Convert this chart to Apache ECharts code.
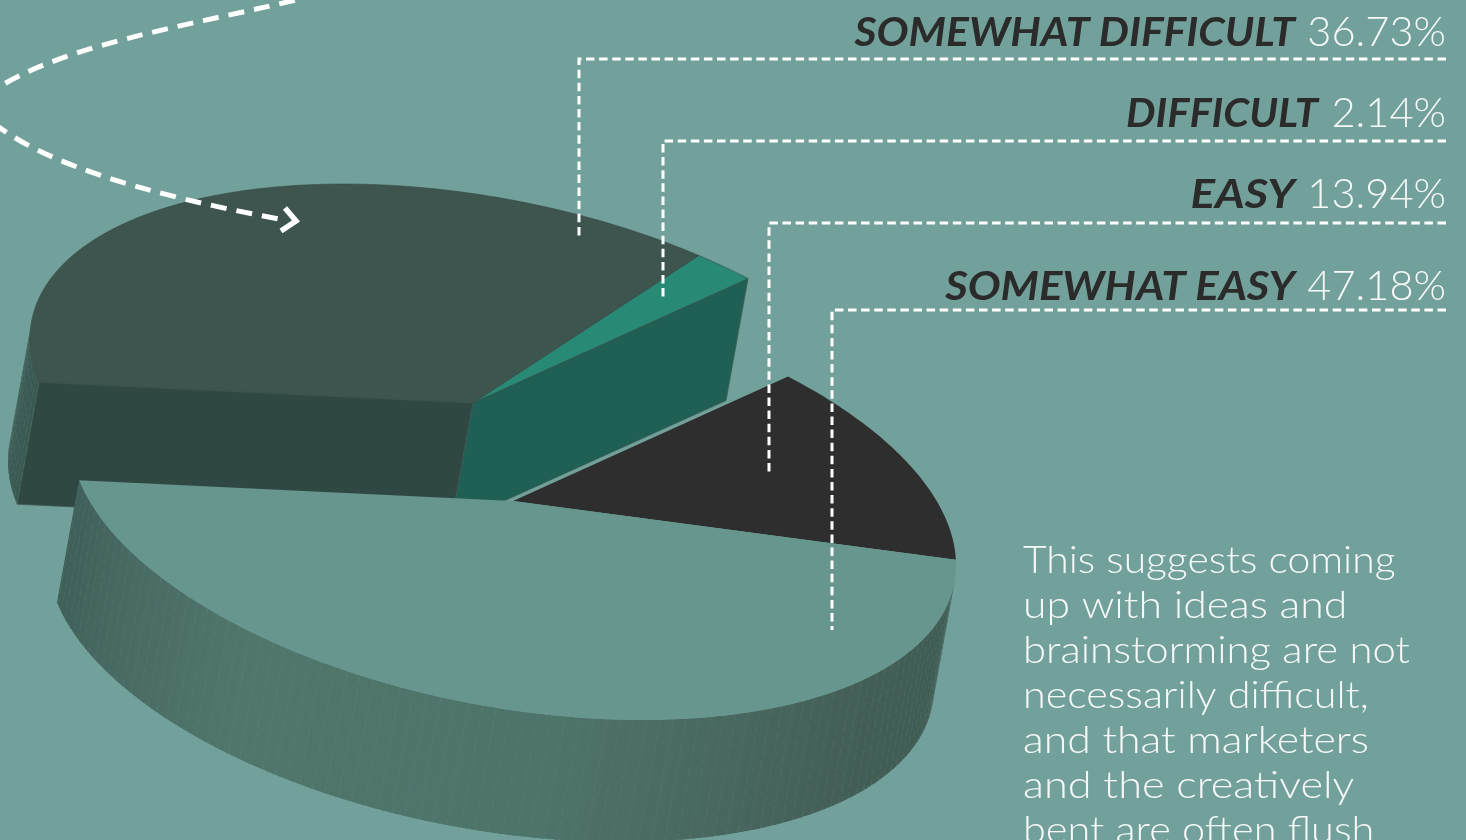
<!DOCTYPE html>
<html>
<head>
<meta charset="utf-8">
<style>html,body{margin:0;padding:0;background:#72a09a;overflow:hidden}#chart{width:1466px;height:840px}</style>
<script src="https://cdn.jsdelivr.net/npm/echarts@6/dist/echarts.min.js"></script>
</head>
<body>
<div id="chart"></div>
<script>
// Survey answers, in clockwise order around the pie.
const categories = ['SOMEWHAT DIFFICULT', 'DIFFICULT', 'EASY', 'SOMEWHAT EASY'];
const shares = [36.73, 2.14, 13.94, 47.18];
const note = ['This suggests coming', 'up with ideas and', 'brainstorming are not',
  'necessarily difficult,', 'and that marketers', 'and the creatively', 'bent are often flush'];
const noteStretch = [1.075, 1.125, 1.103, 1.086, 1.126, 1.139, 1.092];

// Slice colours: top face, cut wall (null when it stays hidden), and a ramp for the curved rim.
const topColors = ['#3d544f', '#288a74', '#2e2e2e', '#67968f'];
const cutColors = ['#304843', '#205f53', null, null];
const rimRamps = [
  ['#3c5a54', '#3c5a54'],
  ['#205f53', '#205f53'],
  ['#2e2e2e', '#2e2e2e'],
  ['#3e5a52', '#445f58', '#4d736a', '#50766c', '#3f5f59']
];

// Projection of the unit disc on to the page.
const axisU = [443, 64];
const axisV = [0, 209.4];
const depth = [-22, 122];
const hub = [473, 403];
const pulled = [[0, 0], [0, 0], [40, 98], [40, 98]];
const polarRadius = 100;
const rimStep = 0.25;
const seamEvery = 2;

const slices = [];
let running = 0;
shares.forEach(function (v) { slices.push([1, running, running + v]); running += v; });

function renderSlice(params, api) {
  const i = params.dataIndex;
  const from = api.value(1), to = api.value(2);
  const off = pulled[i];
  const project = function (p) {
    const c = api.coord([1, p]);
    const u = (c[0] - hub[0]) / polarRadius, v = (c[1] - hub[1]) / polarRadius;
    return [hub[0] + off[0] + axisU[0] * u + axisV[0] * v,
            hub[1] + off[1] + axisU[1] * u + axisV[1] * v];
  };
  const drop = function (pt) { return [pt[0] + depth[0], pt[1] + depth[1]]; };
  const faces = function (a, b) {
    return (b[0] - a[0]) * depth[1] - (b[1] - a[1]) * depth[0] < 0;
  };
  const centre = [hub[0] + off[0], hub[1] + off[1]];
  const first = project(from), last = project(to);
  const children = [];
  const wall = function (a, b, fill, stroke) {
    children.push({ type: 'polygon', shape: { points: [a, b, drop(b), drop(a)] },
      style: { fill: fill, stroke: stroke || null, lineWidth: stroke ? 0.7 : 0 } });
  };

  if (cutColors[i]) {
    if (faces(centre, first)) wall(centre, first, cutColors[i], '#3f5a54');
    if (faces(last, centre)) wall(last, centre, cutColors[i], '#3f5a54');
  }

  // The rim is a run of narrow overlapping facets, shaded along the sweep of the slice,
  // with a faint seam line on every few facets.
  const top = [centre];
  const seams = [];
  let n = 0;
  for (let p = from; p < to; p += rimStep, n++) {
    const q = Math.min(p + rimStep, to);
    const a = project(p), b = project(q);
    top.push(a);
    if (faces(a, b)) {
      const shade = echarts.color.lerp((p - from) / (to - from), rimRamps[i]);
      wall(a, project(Math.min(q + rimStep / 2, to)), shade);
      if (n % seamEvery === 0) seams.push([a, drop(a)]);
    }
  }
  seams.forEach(function (s) {
    children.push({ type: 'line',
      shape: { x1: s[0][0], y1: s[0][1], x2: s[1][0], y2: s[1][1] },
      style: { stroke: 'rgba(125,170,162,0.2)', lineWidth: 0.7, lineDash: [9, 4] } });
  });
  top.push(last);
  children.push({ type: 'polygon', shape: { points: top },
    style: { fill: topColors[i], stroke: i < 2 ? '#354a45' : null, lineWidth: i < 2 ? 0.6 : 0 } });
  return { type: 'group', children: children };
}

// Leader rules run from the right margin to a drop inside each slice.
const ruleRight = 1446;
const leaders = [[579, 59, 240], [663, 141, 297], [769, 223, 475], [832, 310, 630]];
const labelRows = [
  { y: 33, labelRight: 1295, stretch: 1.04 },
  { y: 114, labelRight: 1318, stretch: 1.018 },
  { y: 195, labelRight: 1295, stretch: 1.115 },
  { y: 287, labelRight: 1295, stretch: 1.065 }
];

const graphics = [];
leaders.forEach(function (l) {
  graphics.push({ type: 'polyline', z: 20, shape: { points: [[ruleRight, l[1]], [l[0], l[1]], [l[0], l[2]]] },
    style: { stroke: '#ffffff', lineWidth: 3, lineDash: [8.5, 4.6], fill: null } });
});
categories.forEach(function (name, i) {
  const row = labelRows[i];
  graphics.push({ type: 'text', z: 21, x: row.labelRight, y: row.y, scaleX: row.stretch,
    style: { text: name, align: 'right', verticalAlign: 'middle', fill: '#2b2b2b',
      fontFamily: 'Lato', fontWeight: 'bold', fontStyle: 'italic', fontSize: 41 } });
  graphics.push({ type: 'text', z: 21, x: ruleRight, y: row.y, scaleX: 1.015,
    style: { text: shares[i].toFixed(2) + '%', align: 'right', verticalAlign: 'middle', fill: '#f6f9f8',
      fontFamily: 'Lato', fontWeight: 300, fontSize: 41 } });
});
note.forEach(function (line, i) {
  graphics.push({ type: 'text', z: 21, x: 1023, y: 561 + i * 45, scaleX: noteStretch[i],
    style: { text: line, align: 'left', verticalAlign: 'middle', fill: '#f6f9f8',
      fontFamily: 'Lato', fontWeight: 300, fontSize: 38 } });
});

// Dashed pointer sweeping in from the top left.
const pointerStyle = { stroke: '#ffffff', lineWidth: 5, lineDash: [16, 10], fill: null };
graphics.push({ type: 'bezierCurve', z: 22,
  shape: { x1: 320, y1: -6, cpx1: 200, cpy1: 25, cpx2: 40, cpy2: 45, x2: -25, y2: 105 }, style: pointerStyle });
graphics.push({ type: 'bezierCurve', z: 22,
  shape: { x1: -25, y1: 105, cpx1: 20, cpy1: 160, cpx2: 150, cpy2: 195, x2: 279, y2: 219 }, style: pointerStyle });
graphics.push({ type: 'polyline', z: 22, shape: { points: [[285, 208], [296, 221], [281, 231]] },
  style: { stroke: '#ffffff', lineWidth: 5.5, fill: null } });

const chart = echarts.init(document.getElementById('chart'), null, { renderer: 'canvas' });
chart.setOption({
  animation: false,
  backgroundColor: '#72a09a',
  polar: { center: hub, radius: polarRadius },
  angleAxis: { type: 'value', min: 0, max: 100, startAngle: 191.55, clockwise: true, show: false },
  radiusAxis: { type: 'value', min: 0, max: 1, show: false },
  graphic: { elements: graphics },
  series: [{
    type: 'custom',
    coordinateSystem: 'polar',
    renderItem: renderSlice,
    data: slices,
    clip: false,
    silent: true
  }]
});
</script>
</body>
</html>
